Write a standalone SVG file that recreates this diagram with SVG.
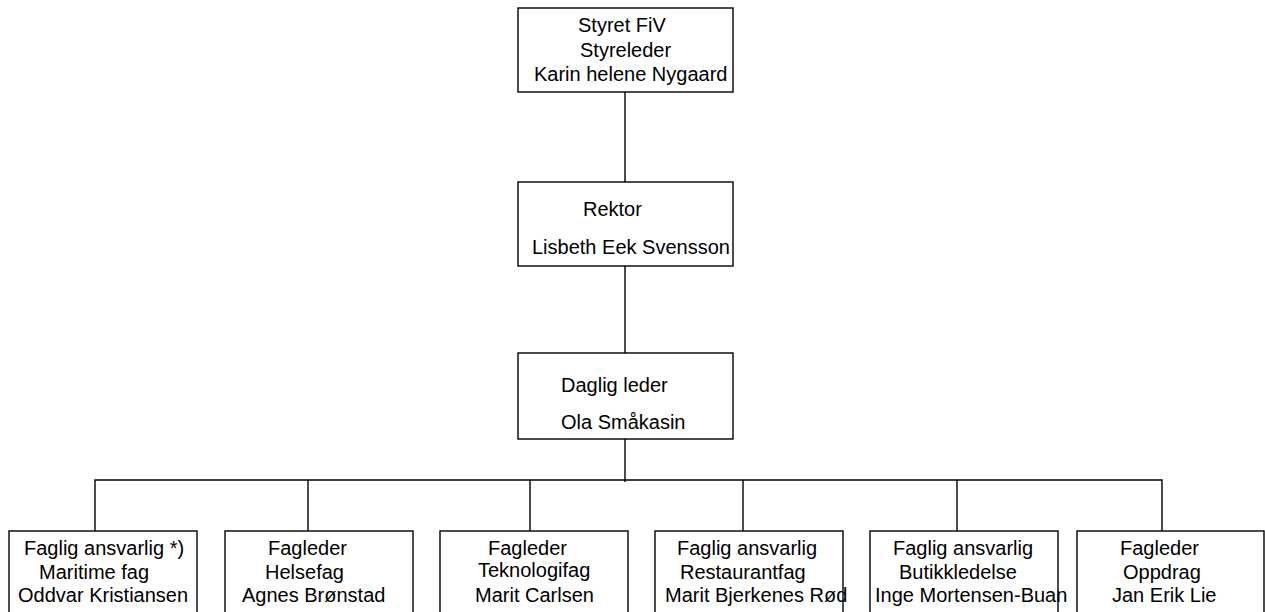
<svg xmlns="http://www.w3.org/2000/svg" width="1265" height="612" viewBox="0 0 1265 612">
<style>
.box{fill:#fff;stroke:#000;stroke-width:1.4}
.ln{fill:none;stroke:#000;stroke-width:1.4}
text{font-family:"Liberation Sans",Arial,sans-serif;font-size:20px;fill:#000}
</style>
<rect width="1265" height="612" fill="#fff"/>
<g id="connectors">
<line class="ln" x1="625" y1="92" x2="625" y2="182"/>
<line class="ln" x1="625" y1="266" x2="625" y2="353"/>
<line class="ln" x1="625" y1="439" x2="625" y2="482"/>
<polyline class="ln" points="95,531 95,480 1162,480 1162,531"/>
<line class="ln" x1="308" y1="480" x2="308" y2="531"/>
<line class="ln" x1="530" y1="480" x2="530" y2="531"/>
<line class="ln" x1="743" y1="480" x2="743" y2="531"/>
<line class="ln" x1="957" y1="480" x2="957" y2="531"/>
</g>
<g id="styret">
<rect class="box" x="518" y="8" width="215" height="84"/>
<text x="578" y="32">Styret FiV</text>
<text x="580" y="57">Styreleder</text>
<text x="534" y="81">Karin helene Nygaard</text>
</g>
<g id="rektor">
<rect class="box" x="518" y="182" width="215" height="84"/>
<text x="583" y="216">Rektor</text>
<text x="532" y="254">Lisbeth Eek Svensson</text>
</g>
<g id="daglig">
<rect class="box" x="518" y="353" width="215" height="86"/>
<text x="561" y="392">Daglig leder</text>
<text x="561" y="429">Ola Småkasin</text>
</g>
<g id="maritime">
<rect class="box" x="9" y="531" width="188" height="100"/>
<text x="24" y="555">Faglig ansvarlig *)</text>
<text x="39" y="579">Maritime fag</text>
<text x="18" y="602">Oddvar Kristiansen</text>
</g>
<g id="helse">
<rect class="box" x="225" y="531" width="188" height="100"/>
<text x="268" y="555">Fagleder</text>
<text x="265" y="579">Helsefag</text>
<text x="242" y="602">Agnes Brønstad</text>
</g>
<g id="teknologi">
<rect class="box" x="440" y="531" width="188" height="100"/>
<text x="488" y="555">Fagleder</text>
<text x="478" y="577">Teknologifag</text>
<text x="475" y="602">Marit Carlsen</text>
</g>
<g id="restaurant">
<rect class="box" x="655" y="531" width="188" height="100"/>
<text x="677" y="555">Faglig ansvarlig</text>
<text x="680" y="579">Restaurantfag</text>
<text x="665" y="602">Marit Bjerkenes Rød</text>
</g>
<g id="butikk">
<rect class="box" x="870" y="531" width="188" height="100"/>
<text x="893" y="555">Faglig ansvarlig</text>
<text x="899" y="579">Butikkledelse</text>
<text x="875" y="602">Inge Mortensen-Buan</text>
</g>
<g id="oppdrag">
<rect class="box" x="1077" y="531" width="187" height="100"/>
<text x="1120" y="555">Fagleder</text>
<text x="1123" y="579">Oppdrag</text>
<text x="1112" y="602">Jan Erik Lie</text>
</g>
</svg>
